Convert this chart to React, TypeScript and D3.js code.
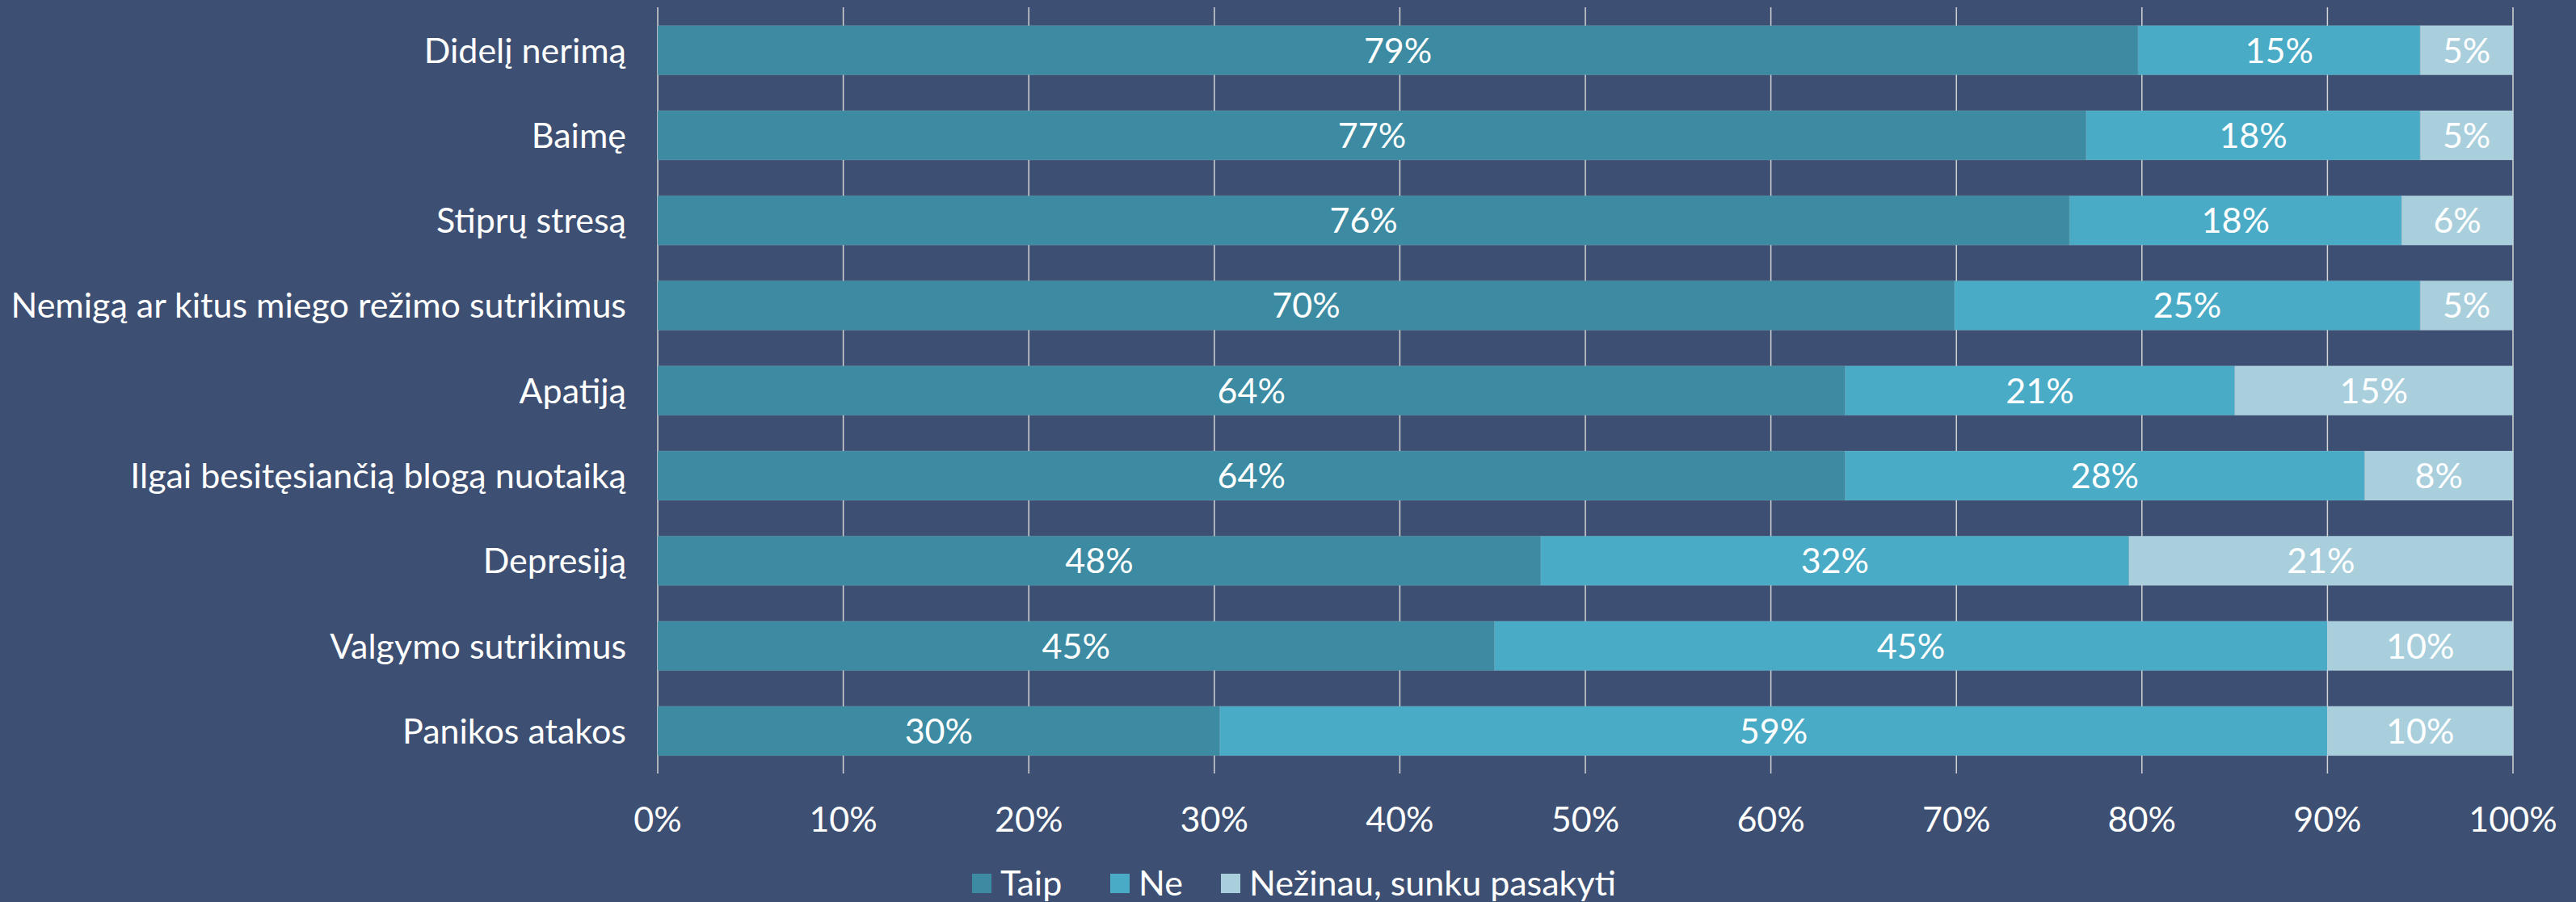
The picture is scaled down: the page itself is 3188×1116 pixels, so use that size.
import * as d3 from "d3";

const W = 3188;
const H = 1116;

const categories = [
  "Didelį nerimą",
  "Baimę",
  "Stiprų stresą",
  "Nemigą ar kitus miego režimo sutrikimus",
  "Apatiją",
  "Ilgai besitęsiančią blogą nuotaiką",
  "Depresiją",
  "Valgymo sutrikimus",
  "Panikos atakos",
];

const seriesNames = ["Taip", "Ne", "Nežinau, sunku pasakyti"];

// shares as drawn (bar lengths)
const taip = [79.8, 77.0, 76.1, 69.9, 64.0, 64.0, 47.6, 45.1, 30.3];
const ne = [15.2, 18.0, 17.9, 25.1, 21.0, 28.0, 31.7, 44.9, 59.7];
const nezinau = [5.0, 5.0, 6.0, 5.0, 15.0, 8.0, 20.7, 10.0, 10.0];

// data labels as printed in the chart
const taipLabels = ["79%", "77%", "76%", "70%", "64%", "64%", "48%", "45%", "30%"];
const neLabels = ["15%", "18%", "18%", "25%", "21%", "28%", "32%", "45%", "59%"];
const nezinauLabels = ["5%", "5%", "6%", "5%", "15%", "8%", "21%", "10%", "10%"];

const xTicks = [0, 10, 20, 30, 40, 50, 60, 70, 80, 90, 100];

const colors = ["#3c8ba2", "#4aabc6", "#a9cfdd"];
const BG = "#3d4f72";
const FONT = "Lato, 'Open Sans', sans-serif";
const FS = 43;

export default function App() {
  const x = d3.scaleLinear().domain([0, 100]).range([814, 3110]);
  const y = d3
    .scaleBand<string>()
    .domain(categories)
    .range([9.5, 957])
    .paddingInner(0.42)
    .paddingOuter(0.21);

  const rows = categories.map((c, i) => ({
    cat: c,
    taip: taip[i],
    ne: ne[i],
    nezinau: nezinau[i],
  }));
  const stack = d3.stack<any>().keys(["taip", "ne", "nezinau"])(rows);
  const labelSets = [taipLabels, neLabels, nezinauLabels];

  // legend layout
  const legendY = 1093;
  const legendX = [1203, 1374, 1511];

  return (
    <svg
      width={W}
      height={H}
      style={{ position: "absolute", left: 0, top: 0, display: "block" }}
      fontFamily={FONT}
    >
      <rect width={W} height={H} fill={BG} />

      {xTicks.map((t) => (
        <line
          key={t}
          x1={x(t)}
          x2={x(t)}
          y1={9}
          y2={957}
          stroke="#d4d4d4"
          strokeWidth={1.5}
        />
      ))}

      {stack.map((s, si) => (
        <g key={si} fill={colors[si]}>
          {s.map((d, i) => (
            <rect
              key={i}
              x={x(d[0])}
              y={y(categories[i])}
              width={x(d[1]) - x(d[0])}
              height={y.bandwidth()}
              stroke="rgba(255,255,255,0.12)"
              strokeWidth={1}
            />
          ))}
        </g>
      ))}

      {stack.map((s, si) => (
        <g key={"l" + si} fill="#ffffff" fontSize={FS} textAnchor="middle">
          {s.map((d, i) => (
            <text
              key={i}
              x={(x(d[0]) + x(d[1])) / 2}
              y={(y(categories[i]) as number) + y.bandwidth() / 2}
              dy="0.36em"
            >
              {labelSets[si][i]}
            </text>
          ))}
        </g>
      ))}

      <g fill="#ffffff" fontSize={FS} textAnchor="end">
        {categories.map((c) => (
          <text
            key={c}
            x={775}
            y={(y(c) as number) + y.bandwidth() / 2}
            dy="0.36em"
          >
            {c}
          </text>
        ))}
      </g>

      <g fill="#ffffff" fontSize={FS} textAnchor="middle">
        {xTicks.map((t) => (
          <text key={t} x={x(t)} y={1029}>
            {t}%
          </text>
        ))}
      </g>

      <g fontSize={FS} fill="#ffffff">
        {seriesNames.map((n, i) => (
          <g key={n}>
            <rect
              x={legendX[i]}
              y={legendY - 12}
              width={24}
              height={24}
              fill={colors[i]}
            />
            <text x={legendX[i] + 35} y={legendY} dy="0.36em">
              {n}
            </text>
          </g>
        ))}
      </g>
    </svg>
  );
}
